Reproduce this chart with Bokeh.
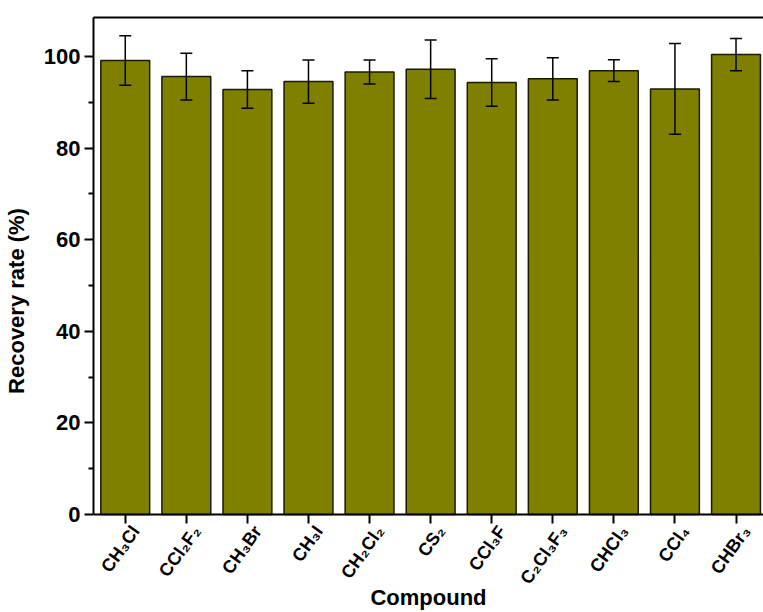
import math
from bokeh.plotting import figure
from bokeh.models import (ColumnDataSource, Whisker, TeeHead, FixedTicker, Range1d,
                          LinearAxis)
from bokeh.core.properties import value
from bokeh.embed import file_html
from bokeh.resources import INLINE

compounds = ["CH₃Cl", "CCl₂F₂", "CH₃Br", "CH₃I", "CH₂Cl₂", "CS₂",
             "CCl₃F", "C₂Cl₃F₃", "CHCl₃", "CCl₄", "CHBr₃"]
recovery = [99.1, 95.6, 92.8, 94.5, 96.6, 97.2, 94.3, 95.1, 96.9, 92.9, 100.4]
errors = [5.4, 5.1, 4.1, 4.7, 2.6, 6.4, 5.2, 4.6, 2.4, 9.9, 3.5]
y_ticks = [0, 20, 40, 60, 80, 100]
y_minor = [10, 30, 50, 70, 90]

FONT = "Liberation Sans"
Y_TOP = 108.5
Y_BOTTOM = -15.3          # room under the zero line for the slanted labels
LABEL_ANGLE = 0.95

xs = list(range(len(compounds)))
src = ColumnDataSource(dict(
    x=xs, top=recovery,
    upper=[v + e for v, e in zip(recovery, errors)],
    lower=[v - e for v, e in zip(recovery, errors)],
))
lab_src = ColumnDataSource(dict(x=[x + 0.17 for x in xs],
                                y=[-2.9] * len(xs), text=compounds))

p = figure(width=763, height=612, output_backend="svg", toolbar_location=None,
           x_axis_type=None,
           x_range=Range1d(-0.52, 10.45), y_range=Range1d(Y_BOTTOM, Y_TOP),
           min_border_left=0, min_border_right=0, min_border_top=17, min_border_bottom=0)
p.background_fill_color = "white"
p.border_fill_color = "white"
p.outline_line_color = None
p.xgrid.visible = False
p.ygrid.visible = False

p.vbar(x="x", top="top", width=0.8, bottom=0, source=src,
       fill_color="#808000", line_color="#1a1a00", line_width=1.5)

w = Whisker(base="x", upper="upper", lower="lower", source=src, level="overlay",
            line_color="black", line_width=1.5,
            upper_head=TeeHead(size=12, line_color="black", line_width=1.5),
            lower_head=TeeHead(size=12, line_color="black", line_width=1.5))
p.add_layout(w)

# slanted compound names under the zero line
p.text(x="x", y="y", text="text", source=lab_src, angle=LABEL_ANGLE,
       text_align="right", text_baseline="middle",
       text_font=value(FONT), text_font_style="bold", text_font_size=value("18px"),
       text_color="black")

# top border line
top_axis = LinearAxis(ticker=FixedTicker(ticks=[]), axis_line_width=2,
                      major_tick_line_color=None, minor_tick_line_color=None)
p.add_layout(top_axis, "above")

# x axis line with ticks, sitting on y = 0
x_ticks_axis = LinearAxis(ticker=FixedTicker(ticks=xs, minor_ticks=[]),
                          fixed_location=0, axis_line_width=2,
                          major_tick_line_width=2, major_tick_in=9, major_tick_out=0,
                          major_label_overrides={i: "" for i in xs},
                          minor_tick_line_color=None)
p.add_layout(x_ticks_axis, "above")

# axis title below
x_title_axis = LinearAxis(ticker=FixedTicker(ticks=[]), axis_line_color=None,
                          major_tick_line_color=None, minor_tick_line_color=None,
                          axis_label="Compound", axis_label_text_font=FONT,
                          axis_label_text_font_style="bold",
                          axis_label_text_font_size="22px",
                          axis_label_text_color="black", axis_label_standoff=0)
p.add_layout(x_title_axis, "below")

# y axis
p.yaxis.bounds = (0, Y_TOP)
p.yaxis.ticker = FixedTicker(ticks=y_ticks, minor_ticks=y_minor)
p.yaxis.axis_label = "Recovery rate (%)"
p.yaxis.axis_label_text_font = FONT
p.yaxis.axis_label_text_font_style = "bold"
p.yaxis.axis_label_text_font_size = "22px"
p.yaxis.axis_label_text_color = "black"
p.yaxis.axis_label_standoff = 12
p.yaxis.major_label_text_font = FONT
p.yaxis.major_label_text_font_style = "bold"
p.yaxis.major_label_text_font_size = "22px"
p.yaxis.major_label_text_color = "black"
p.yaxis.axis_line_width = 2
p.yaxis.major_tick_line_width = 2
p.yaxis.minor_tick_line_width = 2
p.yaxis.major_tick_out = 9
p.yaxis.major_tick_in = 0
p.yaxis.minor_tick_out = 5
p.yaxis.minor_tick_in = 0
p.yaxis.major_label_standoff = 4

open("out.html", "w").write(file_html(p, INLINE))
